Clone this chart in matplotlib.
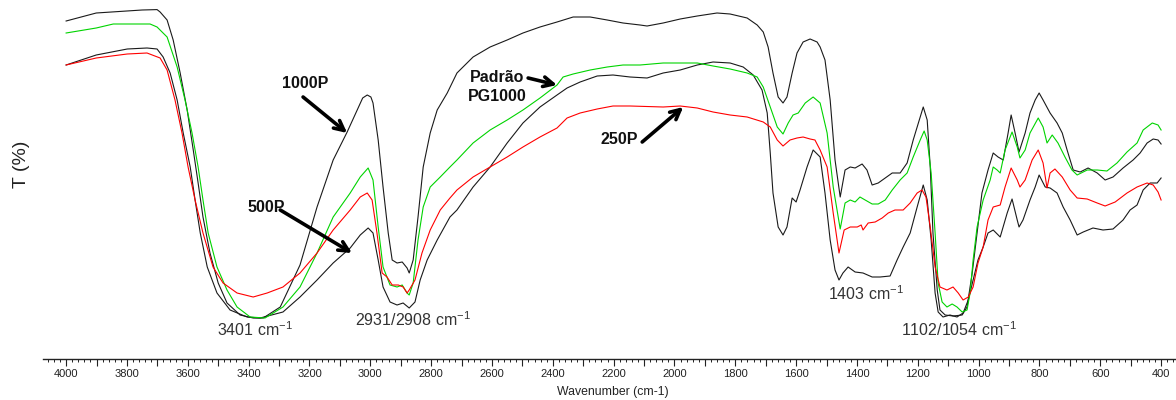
import matplotlib
matplotlib.use("Agg")
import matplotlib.pyplot as plt
from matplotlib.ticker import MultipleLocator, FuncFormatter

plt.rcParams["font.family"] = ["Liberation Sans", "DejaVu Sans"]
plt.rcParams["mathtext.fontset"] = "custom"
plt.rcParams["mathtext.rm"] = "Liberation Sans"
plt.rcParams["mathtext.it"] = "Liberation Sans:italic"
plt.rcParams["mathtext.bf"] = "Liberation Sans:bold"

# ---- FTIR spectra: wavenumber (cm-1) and transmittance (%) ----
wn_1000p = [4000, 3901, 3799, 3750, 3701, 3691, 3668, 3648, 3625, 3602, 3582, 3566, 3550,
            3527, 3500, 3471, 3428, 3385, 3352, 3296, 3231, 3175, 3122, 3076, 3043, 3025, 3010,
            2998, 2991, 2974, 2958, 2941, 2928, 2912, 2895, 2879, 2872, 2859, 2843, 2826, 2803,
            2780, 2747, 2715, 2662, 2606, 2550, 2498, 2442, 2386, 2333, 2277, 2221, 2169,
            2113, 2090, 2037, 1981, 1925, 1860, 1817, 1761, 1728, 1708, 1692, 1676, 1659,
            1643, 1630, 1613, 1597, 1577, 1554, 1531, 1521, 1505, 1488, 1472, 1455, 1439,
            1422, 1406, 1383, 1367, 1350, 1330, 1307, 1284, 1258, 1235, 1215, 1192, 1182,
            1169, 1159, 1150, 1136, 1127, 1110, 1084, 1054, 1038, 1021, 1005, 989, 969,
            952, 936, 919, 903, 893, 880, 867, 847, 831, 814, 801, 788, 765, 742, 725, 709,
            689, 666, 640, 610, 584, 558, 525, 492, 469, 446, 426, 410, 400]
t_1000p = [94.75, 96.75, 97.25, 97.5, 97.6, 97.0, 95.0, 90.0, 81.75, 72.5, 62.5, 54.25, 45.75,
           36.75, 29.25, 24.25, 21.25, 20.5, 20.5, 23.25, 33.75, 48.25, 60.0, 67.0, 72.5, 75.5, 76.25,
           75.75, 74.25, 65.0, 53.25, 41.75, 35.0, 34.25, 34.5, 33.0, 31.75, 35.0, 45.75, 58.25, 66.75,
           72.5, 76.75, 81.75, 85.75, 88.25, 90.0, 91.75, 93.25, 94.5, 95.75, 95.75, 95.0, 94.25,
           93.75, 93.5, 94.25, 95.25, 96.0, 96.75, 96.5, 95.5, 93.75, 92.0, 88.25, 81.75, 75.75,
           74.25, 75.75, 81.75, 86.75, 89.5, 90.25, 89.5, 88.25, 85.0, 75.0, 60.0, 50.75, 57.5,
           58.25, 58.0, 59.0, 57.5, 53.75, 54.25, 55.5, 56.75, 56.75, 59.25, 65.0, 70.75, 73.25,
           70.0, 58.25, 41.75, 27.5, 22.5, 21.25, 21.0, 21.25, 23.25, 31.75, 41.75, 51.75, 57.5,
           61.75, 60.75, 60.0, 66.75, 71.25, 66.75, 62.0, 66.75, 71.75, 75.0, 76.75, 75.0, 71.75,
           69.25, 66.75, 62.5, 57.5, 57.0, 58.0, 56.75, 55.0, 55.75, 58.0, 60.0, 61.75, 64.25,
           65.25, 65.0, 64.0]

wn_padrao = [4000, 3901, 3845, 3724, 3701, 3668, 3635, 3609, 3586, 3566, 3550, 3533, 3504,
             3471, 3438, 3395, 3346, 3287, 3231, 3175, 3122, 3066, 3033, 3007, 2991, 2974,
             2958, 2935, 2912, 2895, 2879, 2872, 2859, 2843, 2826, 2803, 2770, 2738, 2715,
             2662, 2606, 2550, 2498, 2442, 2386, 2366, 2333, 2277, 2221, 2169, 2113, 2037,
             1925, 1873, 1817, 1761, 1728, 1708, 1685, 1662, 1643, 1626, 1610, 1593, 1570,
             1544, 1521, 1498, 1478, 1455, 1439, 1422, 1406, 1390, 1373, 1350, 1330, 1307,
             1284, 1258, 1235, 1215, 1192, 1179, 1169, 1156, 1143, 1133, 1120, 1104, 1087,
             1071, 1054, 1038, 1028, 1018, 1005, 985, 962, 952, 939, 929, 913, 890, 873, 864,
             847, 831, 804, 788, 775, 758, 739, 716, 693, 676, 643, 610, 578, 545, 512, 479,
             459, 429, 410, 400]
t_padrao = [91.75, 93.0, 94.0, 94.0, 93.25, 90.75, 83.25, 75.0, 66.75, 58.25, 50.0, 41.75, 33.25,
            27.5, 23.25, 20.75, 20.5, 23.25, 28.25, 36.75, 45.75, 51.75, 55.75, 58.0, 55.0, 43.25,
            33.25, 28.75, 28.25, 28.75, 26.75, 26.25, 29.25, 40.0, 48.25, 53.25, 55.75, 58.25, 60.0,
            64.25, 67.5, 70.0, 72.5, 75.5, 78.75, 80.75, 81.5, 82.5, 83.25, 83.75, 83.75, 84.25,
            84.25, 83.5, 82.75, 81.75, 80.75, 78.25, 73.25, 68.25, 66.5, 69.25, 71.25, 71.75, 74.25,
            75.75, 74.25, 66.75, 53.25, 42.75, 49.25, 50.0, 49.5, 50.75, 50.0, 49.0, 49.0, 50.0,
            52.5, 55.0, 56.75, 60.75, 65.0, 67.25, 65.0, 56.75, 41.75, 29.25, 24.5, 23.25, 24.0,
            23.25, 22.0, 22.5, 26.75, 35.0, 43.25, 50.0, 55.0, 58.25, 57.5, 56.75, 62.5, 67.0, 63.25, 60.5,
            62.5, 66.75, 70.5, 68.25, 64.25, 66.25, 64.25, 60.75, 57.5, 56.25, 57.5, 57.5, 57.25, 59.25,
            62.0, 64.25, 67.5, 69.25, 68.75, 67.5]

wn_500p = [4000, 3901, 3799, 3734, 3701, 3681, 3658, 3635, 3615, 3592, 3576, 3559, 3536, 3504,
           3461, 3405, 3362, 3287, 3231, 3175, 3122, 3066, 3033, 3007, 2991, 2974, 2958, 2935,
           2912, 2892, 2872, 2853, 2836, 2813, 2780, 2738, 2715, 2662, 2606, 2550, 2498, 2442,
           2386, 2353, 2310, 2254, 2202, 2146, 2090, 2037, 1981, 1925, 1873, 1817, 1774, 1741,
           1712, 1695, 1685, 1676, 1659, 1643, 1630, 1613, 1600, 1587, 1564, 1544, 1521, 1505,
           1488, 1472, 1459, 1446, 1429, 1406, 1380, 1350, 1324, 1291, 1268, 1248, 1225, 1202,
           1182, 1169, 1156, 1143, 1133, 1117, 1094, 1071, 1051, 1034, 1018, 1002, 985, 969,
           952, 929, 906, 890, 873, 867, 854, 831, 814, 801, 781, 765, 742, 722, 699, 676, 656,
           624, 591, 558, 525, 502, 479, 459, 436, 413, 400]
t_500p = [83.75, 86.25, 87.75, 88.0, 87.75, 85.75, 81.75, 75.0, 66.75, 58.25, 50.0, 41.75, 33.25,
          26.75, 22.5, 20.75, 20.5, 22.0, 25.75, 30.0, 34.25, 38.0, 41.25, 43.0, 41.75, 35.0, 28.25,
          24.5, 23.75, 24.25, 23.0, 24.5, 30.0, 35.0, 40.0, 45.75, 47.5, 53.25, 58.25, 64.25, 69.25,
          73.25, 76.25, 78.0, 79.5, 81.0, 81.25, 80.75, 80.5, 81.75, 82.5, 83.75, 84.5, 84.25, 83.25,
          81.25, 77.5, 71.75, 61.75, 51.75, 43.25, 41.25, 43.25, 50.5, 49.5, 52.5, 58.25, 62.5, 60.75,
          51.75, 40.0, 32.5, 30.0, 31.75, 33.25, 32.0, 31.75, 30.75, 30.75, 31.0, 35.0, 38.25, 41.75,
          48.25, 53.75, 50.0, 40.0, 26.75, 22.0, 20.75, 21.25, 20.75, 21.75, 25.0, 30.0, 35.0, 38.25,
          41.75, 42.5, 40.75, 46.75, 50.25, 45.0, 43.25, 45.0, 50.0, 53.25, 56.25, 53.25, 53.0, 51.75,
          48.25, 45.0, 41.25, 42.0, 43.0, 42.5, 42.75, 45.0, 47.5, 48.75, 52.5, 54.25, 54.25, 55.5]

wn_250p = [4000, 3901, 3799, 3734, 3691, 3668, 3642, 3619, 3599, 3576, 3550, 3517, 3484, 3438,
           3385, 3339, 3287, 3231, 3175, 3122, 3066, 3033, 3010, 2994, 2978, 2961, 2945, 2928,
           2908, 2892, 2879, 2872, 2853, 2830, 2803, 2770, 2738, 2715, 2662, 2606, 2550, 2498,
           2442, 2386, 2353, 2310, 2254, 2202, 2146, 2037, 1981, 1925, 1873, 1817, 1761, 1708,
           1685, 1662, 1643, 1620, 1597, 1577, 1554, 1538, 1521, 1498, 1478, 1459, 1442, 1422,
           1399, 1386, 1380, 1363, 1340, 1317, 1297, 1275, 1248, 1225, 1202, 1186, 1173, 1159,
           1143, 1127, 1104, 1084, 1067, 1051, 1034, 1018, 1002, 985, 969, 952, 929, 913, 893,
           873, 864, 847, 824, 804, 788, 775, 765, 749, 725, 699, 676, 643, 610, 584, 551, 512,
           479, 446, 426, 410, 400]
t_250p = [83.75, 85.5, 86.5, 86.75, 85.5, 82.5, 75.0, 66.75, 58.25, 50.0, 41.75, 33.25, 29.25,
          26.75, 25.75, 26.75, 28.25, 31.75, 36.75, 42.5, 47.5, 50.75, 51.75, 50.0, 41.75, 31.75,
          30.75, 28.75, 28.75, 28.25, 26.75, 27.5, 30.0, 36.75, 42.5, 47.5, 50.5, 52.5, 55.75, 58.25,
          60.75, 63.25, 65.75, 68.0, 70.5, 71.75, 72.75, 73.5, 73.5, 73.25, 73.5, 73.0, 72.0, 71.25,
          70.75, 69.5, 68.25, 65.0, 63.5, 65.0, 65.5, 65.75, 65.25, 65.0, 62.5, 58.25, 46.75, 36.75,
          42.5, 43.25, 43.25, 43.75, 42.5, 44.25, 44.5, 45.5, 46.75, 47.5, 47.5, 49.25, 51.75, 52.5,
          50.75, 43.25, 33.25, 28.25, 27.5, 28.25, 26.75, 25.0, 25.75, 28.25, 34.25, 38.25, 45.0,
          48.25, 48.75, 53.25, 58.0, 55.0, 53.25, 55.0, 60.0, 62.5, 59.25, 53.0, 56.75, 57.75, 55.75,
          52.5, 50.5, 50.25, 49.25, 48.5, 49.5, 51.75, 53.25, 54.25, 53.75, 52.0, 50.0]

W, H, DPI = 1176, 400, 100
fig = plt.figure(figsize=(W / DPI, H / DPI), dpi=DPI)
ax = fig.add_axes([43 / W, 41 / H, (W - 43) / W, 359 / H])

lw = 0.8
ax.plot(wn_1000p, t_1000p, color="#1a1a1a", lw=lw)
ax.plot(wn_500p, t_500p, color="#1a1a1a", lw=lw)
ax.plot(wn_padrao, t_padrao, color="#00d400", lw=lw)
ax.plot(wn_250p, t_250p, color="#ff0000", lw=lw)

ax.set_xlim(4076, 351)
ax.set_ylim(10.25, 100)

for side in ("top", "right", "left"):
    ax.spines[side].set_visible(False)
ax.spines["bottom"].set_linewidth(1.0)
ax.spines["bottom"].set_color("#222222")
ax.set_yticks([])

ax.xaxis.set_major_locator(MultipleLocator(100))
ax.xaxis.set_minor_locator(MultipleLocator(20))
ax.xaxis.set_major_formatter(FuncFormatter(lambda v, p: f"{int(round(v))}" if int(round(v)) % 200 == 0 else ""))
ax.tick_params(axis="x", which="major", length=5, width=0.8, color="#222222",
               labelsize=8, labelcolor="#222222", pad=2)
ax.tick_params(axis="x", which="minor", length=2.5, width=0.7, color="#222222")

fig.text(613 / W, 1 - 392 / H, "Wavenumber (cm-1)", ha="center", va="center",
         fontsize=8.8, color="#222222")
fig.text(21 / W, 1 - 164 / H, "T (%)", rotation=90, ha="center", va="center",
         fontsize=14, color="#222222")

# peak assignments
peak_kw = dict(ha="center", va="center", fontsize=11.5, color="#333333")
ax.text(3379, 17.5, "3401 cm$^{-1}$", **peak_kw)
ax.text(2859, 20.0, "2931/2908 cm$^{-1}$", **peak_kw)
ax.text(1370, 26.5, "1403 cm$^{-1}$", **peak_kw)
ax.text(1064, 17.5, "1102/1054 cm$^{-1}$", **peak_kw)

# sample labels with arrows
arrow = dict(arrowstyle="->,head_length=0.7,head_width=0.35", lw=2.6, color="black",
             shrinkA=0, shrinkB=0)
lab_kw = dict(fontsize=11.5, fontweight="bold", color="#111111")

ax.text(3214, 79.25, "1000P", ha="center", va="center", **lab_kw)
ax.annotate("", xy=(3076, 66.75), xytext=(3221, 75.75), arrowprops=arrow)

ax.text(3342, 48.0, "500P", ha="center", va="center", **lab_kw)
ax.annotate("", xy=(3060, 36.75), xytext=(3296, 47.5), arrowprops=arrow)

ax.text(2583, 78.25, "Padrão\nPG1000", ha="center", va="center", linespacing=1.35, **lab_kw)
ax.annotate("", xy=(2386, 78.75), xytext=(2481, 80.5), arrowprops=arrow)

ax.text(2182, 65.0, "250P", ha="center", va="center", **lab_kw)
ax.annotate("", xy=(1971, 73.25), xytext=(2106, 64.5), arrowprops=arrow)

fig.savefig("out.png", dpi=DPI)
